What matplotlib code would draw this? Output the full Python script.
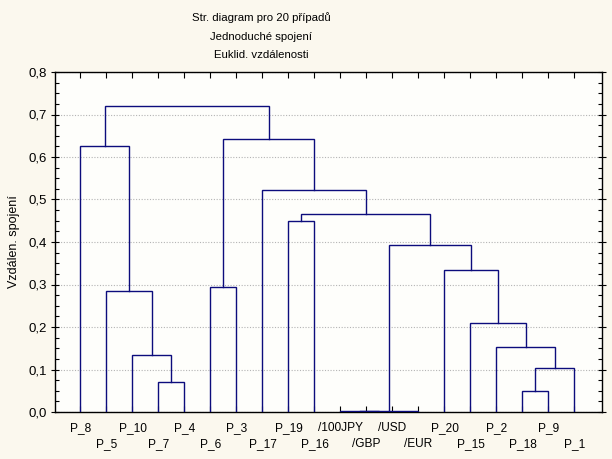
import matplotlib
matplotlib.use("Agg")
import matplotlib.pyplot as plt
from matplotlib.ticker import MultipleLocator, FuncFormatter, FixedLocator, FixedFormatter

# ---- data ----
leaves = ["P_8", "P_5", "P_10", "P_7", "P_4", "P_6", "P_3", "P_17", "P_19", "P_16",
          "/100JPY", "/GBP", "/USD", "/EUR", "P_20", "P_15", "P_2", "P_18", "P_9", "P_1"]
# merges: indices < 20 are leaves, >= 20 are clusters formed in this order
merge_left = [3, 2, 1, 0, 5, 8, 11, 10, 27, 17, 29, 16, 15, 14, 28, 25, 7, 24, 23]
merge_right = [4, 20, 21, 22, 6, 9, 12, 26, 13, 18, 19, 30, 31, 32, 33, 34, 35, 36, 37]
merge_height = [0.070, 0.134, 0.285, 0.627, 0.294, 0.450, 0.001, 0.002, 0.003,
                0.049, 0.104, 0.153, 0.209, 0.334, 0.394, 0.465, 0.523, 0.643, 0.720]
title_lines = ["Str. diagram pro 20 případů", "Jednoduché spojení", "Euklid. vzdálenosti"]
y_label = "Vzdálen. spojení"

FONT = ["Liberation Sans", "DejaVu Sans"]
plt.rcParams['font.family'] = FONT
LINE = "#0c0c7c"

fig = plt.figure(figsize=(6.12, 4.59), dpi=100, facecolor="#fbf8ee")
ax = fig.add_axes([55 / 612, 1 - 412 / 459, (602 - 55) / 612, (412 - 72) / 459])
ax.set_facecolor("#fefefb")

n = len(leaves)
xpos = {i: float(i) for i in range(n)}
hpos = {i: 0.0 for i in range(n)}
for k, (a, b, h) in enumerate(zip(merge_left, merge_right, merge_height)):
    cid = n + k
    xa, xb = xpos[a], xpos[b]
    ax.plot([xa, xa, xb, xb], [hpos[a], h, h, hpos[b]], color=LINE, lw=1.0,
            solid_joinstyle="miter", zorder=3)
    xpos[cid] = (xa + xb) / 2
    hpos[cid] = h

ax.set_xlim(-0.98, 20.06)
ax.set_ylim(0, 0.8)

# leaf labels: alternate rows (even -> major ticks, odd -> minor ticks with larger pad)
even_pos = list(range(0, n, 2))
odd_pos = list(range(1, n, 2))
ax.xaxis.set_major_locator(FixedLocator(even_pos))
ax.xaxis.set_major_formatter(FixedFormatter([leaves[i] for i in even_pos]))
ax.xaxis.set_minor_locator(FixedLocator(odd_pos))
ax.xaxis.set_minor_formatter(FixedFormatter([leaves[i] for i in odd_pos]))
ax.tick_params(axis="x", which="major", direction="in", top=True, bottom=True, length=4,
               width=0.8, pad=7.5, labelsize=8.6)
ax.tick_params(axis="x", which="minor", direction="in", top=True, bottom=True, length=4,
               width=0.8, pad=18.5, labelsize=8.6)

ax.yaxis.set_major_locator(MultipleLocator(0.1))
ax.yaxis.set_minor_locator(MultipleLocator(0.025))
ax.yaxis.set_major_formatter(FuncFormatter(lambda v, p: f"{v:.1f}".replace(".", ",")))
ax.tick_params(axis="y", which="major", direction="inout", left=True, right=True,
               length=6, width=0.8, labelsize=9.5, pad=3)
ax.tick_params(axis="y", which="minor", direction="in", left=True, right=True,
               length=3, width=0.8)
ax.yaxis.grid(True, which="major", linestyle=(0, (1, 1.5)), color="#b4b4b4", lw=0.8, zorder=1)

for s in ax.spines.values():
    s.set_linewidth(1.0)
    s.set_color("black")

ax.set_ylabel(y_label, fontsize=9, labelpad=6)

for i, t in enumerate(title_lines):
    fig.text(261 / 612, 1 - (17.5 + 19 * i) / 459, t, ha="center", va="center", fontsize=8.2)

fig.savefig("out.png", dpi=100, facecolor=fig.get_facecolor())
